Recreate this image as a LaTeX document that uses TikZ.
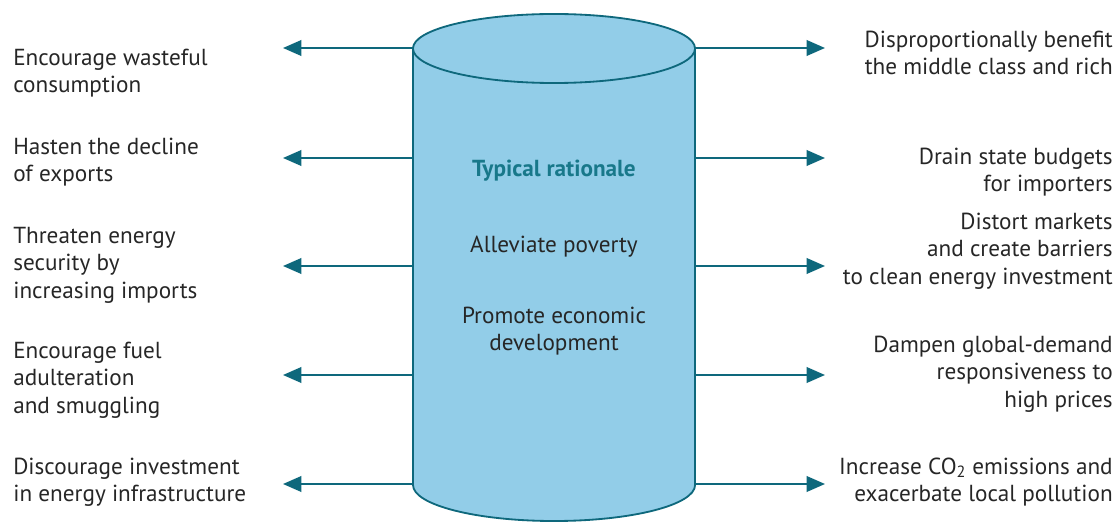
\documentclass[tikz,border=0pt]{standalone}
\usepackage{fontspec}
\setmainfont{PT Sans}
\usetikzlibrary{arrows.meta}
\definecolor{tankfill}{RGB}{146,205,232}
\definecolor{tankline}{RGB}{14,104,124}
\definecolor{headcol}{RGB}{24,120,138}
\begin{document}
\begin{tikzpicture}[x=0.025cm, y=-0.025cm, >={Triangle[length=13pt,width=11pt]}]
\tikzstyle{every node}=[inner sep=0pt, text=black!85, font=\fontsize{16.5}{19.5}\selectfont]
\tikzstyle{lefttext}=[anchor=west, align=left]
\tikzstyle{righttext}=[anchor=east, align=right]
\tikzstyle{effect}=[->, draw=tankline, line width=1.5pt]
\useasboundingbox (0,0) rectangle (1120,525);
% the tank
\draw[tankline, line width=1.3pt, fill=tankfill] (413,48.5) -- (413,485)
  arc[start angle=180, end angle=360, x radius=3.525cm, y radius=0.9cm] -- (695,48.5) -- cycle;
\draw[tankline, line width=1.3pt, fill=tankfill] (554,48.5) ellipse[x radius=3.525cm, y radius=0.8625cm];
\node[text=headcol](c0) at (554,171) {\bfseries Typical rationale};
\node[align=center](c1) at (554,247) {Alleviate poverty};
\node[align=center](c2) at (554,331) {Promote economic\\development};
%
\coordinate (a1) at (413,48);
\coordinate (a2) at (413,158);
\coordinate (a3) at (413,266);
\coordinate (a4) at (413,375);
\coordinate (a5) at (413,484);
\coordinate (t1) at (283,48);
\coordinate (t2) at (283,158);
\coordinate (t3) at (283,266);
\coordinate (t4) at (283,375);
\coordinate (t5) at (283,484);
%
\coordinate (b1) at (695,48);
\coordinate (b2) at (695,158);
\coordinate (b3) at (695,266);
\coordinate (b4) at (695,375);
\coordinate (b5) at (695,484);
\coordinate (s1) at (825,48);
\coordinate (s2) at (825,158);
\coordinate (s3) at (825,266);
\coordinate (s4) at (825,375);
\coordinate (s5) at (825,484);
%
\node[lefttext](l1) at (13,73) {Encourage wasteful\\consumption};
\node[lefttext](l2) at (13,162) {Hasten the decline\\of exports};
\node[lefttext](l3) at (13,265) {Threaten energy\\security by\\increasing imports};
\node[lefttext](l4) at (13,380) {Encourage fuel\\adulteration\\and smuggling};
\node[lefttext](l5) at (13,482) {Discourage investment\\in energy infrastructure};
%
\node[righttext](r1) at (1113,53) {Disproportionally benefit\\the middle class and rich};
\node[righttext](r2) at (1113,172) {Drain state budgets\\for importers};
\node[righttext](r3) at (1113,251) {Distort markets\\and create barriers\\to clean energy investment};
\node[righttext](r4) at (1113,374) {Dampen global-demand\\responsiveness to\\high prices};
\node[righttext](r5) at (1113,482) {Increase CO\textsubscript{2} emissions and\\exacerbate local pollution};
%
\draw[effect] (a1) -- (t1);
\draw[effect] (a2) -- (t2);
\draw[effect] (a3) -- (t3);
\draw[effect] (a4) -- (t4);
\draw[effect] (a5) -- (t5);
\draw[effect] (b1) -- (s1);
\draw[effect] (b2) -- (s2);
\draw[effect] (b3) -- (s3);
\draw[effect] (b4) -- (s4);
\draw[effect] (b5) -- (s5);
\end{tikzpicture}
\end{document}
